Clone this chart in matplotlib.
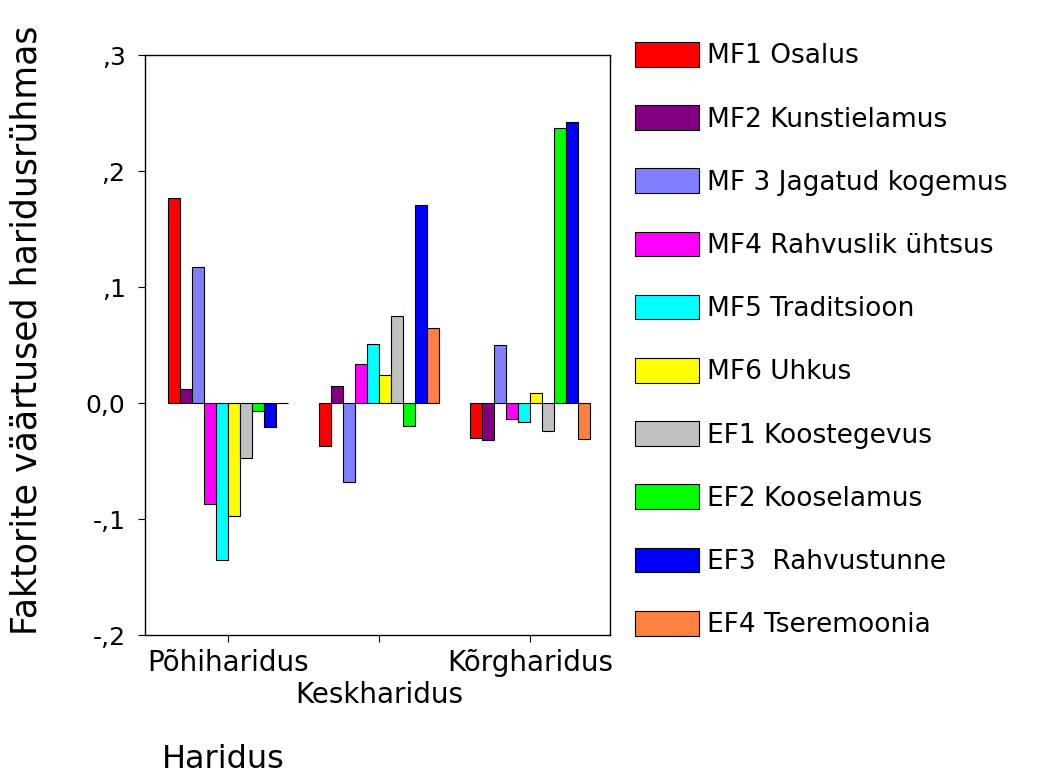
import numpy as np
import matplotlib
matplotlib.use("Agg")
import matplotlib.pyplot as plt

# haridusrühmad ja faktorid
grupid = ["Põhiharidus", "\nKeskharidus", "Kõrgharidus"]
faktorid = ["MF1 Osalus", "MF2 Kunstielamus", "MF 3 Jagatud kogemus",
            "MF4 Rahvuslik ühtsus", "MF5 Traditsioon", "MF6 Uhkus",
            "EF1 Koostegevus", "EF2 Kooselamus", "EF3  Rahvustunne",
            "EF4 Tseremoonia"]
varvid = ["#FF0000", "#800080", "#8080FF", "#FF00FF", "#00FFFF",
          "#FFFF00", "#C0C0C0", "#00FF00", "#0000FF", "#FF8040"]

# keskmised faktorite väärtused (loetud jooniselt)
pohiharidus = [0.177, 0.012, 0.117, -0.087, -0.135, -0.097, -0.047, -0.007, -0.021, 0.0]
keskharidus = [-0.037, 0.015, -0.068, 0.034, 0.051, 0.024, 0.075, -0.020, 0.171, 0.065]
korgharidus = [-0.030, -0.032, 0.050, -0.014, -0.016, 0.009, -0.024, 0.237, 0.242, -0.031]

yticks = [-0.2, -0.1, 0.0, 0.1, 0.2, 0.3]
ytick_lbl = ["-,2", "-,1", "0,0", ",1", ",2", ",3"]

plt.rcParams['font.family'] = ['DejaVu Sans']

fig = plt.figure(figsize=(10.64, 7.78), dpi=100)
ax = fig.add_axes([145/1064, 1-635/778, 465/1064, 580/778])

vaartused = np.array([pohiharidus, keskharidus, korgharidus])
x = np.arange(len(grupid))
w = 0.08
for i in range(len(faktorid)):
    ax.bar(x + (i - 4.5) * w, vaartused[:, i], width=w, color=varvid[i],
           edgecolor="black", linewidth=0.8, label=faktorid[i])

ax.set_xlim(-0.55, 2.53)
ax.set_ylim(-0.2, 0.3)
ax.set_yticks(yticks)
ax.set_yticklabels(ytick_lbl)
ax.set_xticks(x)
ax.set_xticklabels(grupid)
ax.tick_params(axis='y', direction='out', length=5, width=0.8, pad=9, labelsize=18)
ax.tick_params(axis='x', direction='out', length=5, width=0.8, pad=5, labelsize=20)
for s in ax.spines.values():
    s.set_linewidth(1.0)

leg = ax.legend(loc='upper left', bbox_to_anchor=(635/1064, 1-42/778),
                bbox_transform=fig.transFigure, frameon=False, fontsize=19,
                handlelength=2.42, handleheight=1.06, handletextpad=0.3,
                labelspacing=1.36, borderpad=0, borderaxespad=0)

fig.text(27/1064, 1-635/778, "Faktorite väärtused haridusrühmas",
         rotation=90, ha='center', va='bottom', fontsize=25)
fig.text(223/1064, 1-768/778, "Haridus", ha='center', va='baseline', fontsize=23)

fig.savefig("out.png", dpi=100)
